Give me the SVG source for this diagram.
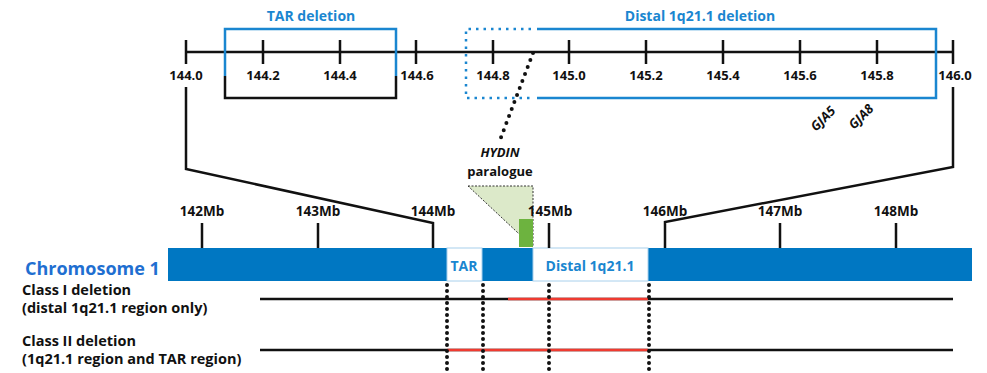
<svg xmlns="http://www.w3.org/2000/svg" width="987" height="373" viewBox="0 0 987 373">
<style>
text{font-family:"Open Sans","Liberation Sans",sans-serif;font-weight:bold}
.k{fill:#111;font-size:13px}
.c{text-anchor:middle}
.bl{fill:#1a86d0;font-size:14px}
.ax{stroke:#111;stroke-width:2.5;fill:none}
.bx{stroke:#1a86d0;stroke-width:2.5;fill:none}
.dot{stroke:#111;stroke-width:4;stroke-linecap:round;fill:none}
.lab{fill:#111;font-size:14.5px}
.mb{fill:#111;font-size:13.5px}
</style>
<rect width="987" height="373" fill="#fff"/>

<g id="top-axis">
<line class="ax" x1="186" y1="52" x2="953" y2="52"/>
<path class="ax" d="M186 40V64M263 40V64M340 40V64M416 40V64M493 40V64M569 40V64M646 40V64M723 40V64M800 40V64M877 40V64M953 40V64"/>
<g class="k c">
<text x="186" y="80">144.0</text><text x="263" y="80">144.2</text><text x="340" y="80">144.4</text>
<text x="417" y="80">144.6</text><text x="493" y="80">144.8</text><text x="569" y="80">145.0</text>
<text x="646" y="80">145.2</text><text x="723" y="80">145.4</text><text x="800" y="80">145.6</text>
<text x="877" y="80">145.8</text><text x="955" y="80">146.0</text>
</g>
</g>

<g id="tar-deletion">
<path class="bx" d="M225 76V29H396V76"/>
<path class="ax" d="M225 76V98H396V76"/>
<text class="bl c" x="311" y="21">TAR deletion</text>
</g>

<g id="distal-deletion">
<path class="bx" d="M537 29H936V98H537"/>
<path d="M531 29H466V98H531" fill="none" stroke="#1a86d0" stroke-width="2.5" stroke-dasharray="2.5 5"/>
<text class="bl c" x="700" y="21">Distal 1q21.1 deletion</text>
</g>

<g id="genes">
<text class="k" font-size="14px" font-style="italic" transform="translate(816,132) rotate(-45)">GJA5</text>
<text class="k" font-size="14px" font-style="italic" transform="translate(854,130) rotate(-45)">GJA8</text>
</g>

<g id="hydin">
<polygon points="468,186 533,186 533,247" fill="#dce9c9"/>
<path d="M468 186H533V247L468 186" fill="none" stroke="#333" stroke-width="1" stroke-dasharray="2 1.5"/>
<rect x="519" y="219" width="14" height="28" fill="#6db33f"/>
<text class="k c" x="500" y="157" font-size="14px" font-style="italic">HYDIN</text>
<text class="k c" x="500" y="176" font-size="14px">paralogue</text>
</g>

<g id="chromosome">
<rect x="168" y="248" width="804" height="33" fill="#0077c2"/>
<rect x="447" y="248" width="35" height="33" fill="#fff" stroke="#a8d0ec" stroke-width="1"/>
<rect x="533" y="248" width="115" height="33" fill="#fff" stroke="#a8d0ec" stroke-width="1"/>
<text class="bl c" x="464" y="271">TAR</text>
<text class="bl c" x="590" y="271">Distal 1q21.1</text>
<text x="25" y="275" fill="#1f6fd1" font-size="18px">Chromosome 1</text>
</g>

<g id="mb-scale">
<path class="ax" d="M202 223V248M318 223V248M549 223V248M780 223V248M896 223V248"/>
<g class="mb c">
<text x="202" y="216">142Mb</text><text x="318" y="216">143Mb</text><text x="433" y="216">144Mb</text>
<text x="550" y="216">145Mb</text><text x="665" y="216">146Mb</text><text x="780" y="216">147Mb</text>
<text x="896" y="216">148Mb</text>
</g>
</g>

<g id="deletions">
<text class="lab" x="22" y="295">Class I deletion</text>
<text class="lab" x="22" y="313">(distal 1q21.1 region only)</text>
<text class="lab" x="22" y="346">Class II deletion</text>
<text class="lab" x="22" y="364">(1q21.1 region and TAR region)</text>
<line x1="260" y1="299" x2="953" y2="299" stroke="#111" stroke-width="2.5"/>
<line x1="508" y1="299" x2="648" y2="299" stroke="#f03a30" stroke-width="2.5"/>
<line x1="260" y1="350" x2="953" y2="350" stroke="#111" stroke-width="2.5"/>
<line x1="447" y1="350" x2="648" y2="350" stroke="#f03a30" stroke-width="2.5"/>
</g>

<g id="connectors">
<polyline class="ax" points="186,87 186,169 433,223 433,248"/>
<polyline class="ax" points="953,87 953,167 665,222 665,248"/>
<line class="dot" x1="533" y1="53" x2="500" y2="140" stroke-dasharray="0 7.5"/>
<path class="dot" d="M447 285V373M483 285V373M549 285V373M649 285V373" stroke-dasharray="0 6"/>
</g>
</svg>
